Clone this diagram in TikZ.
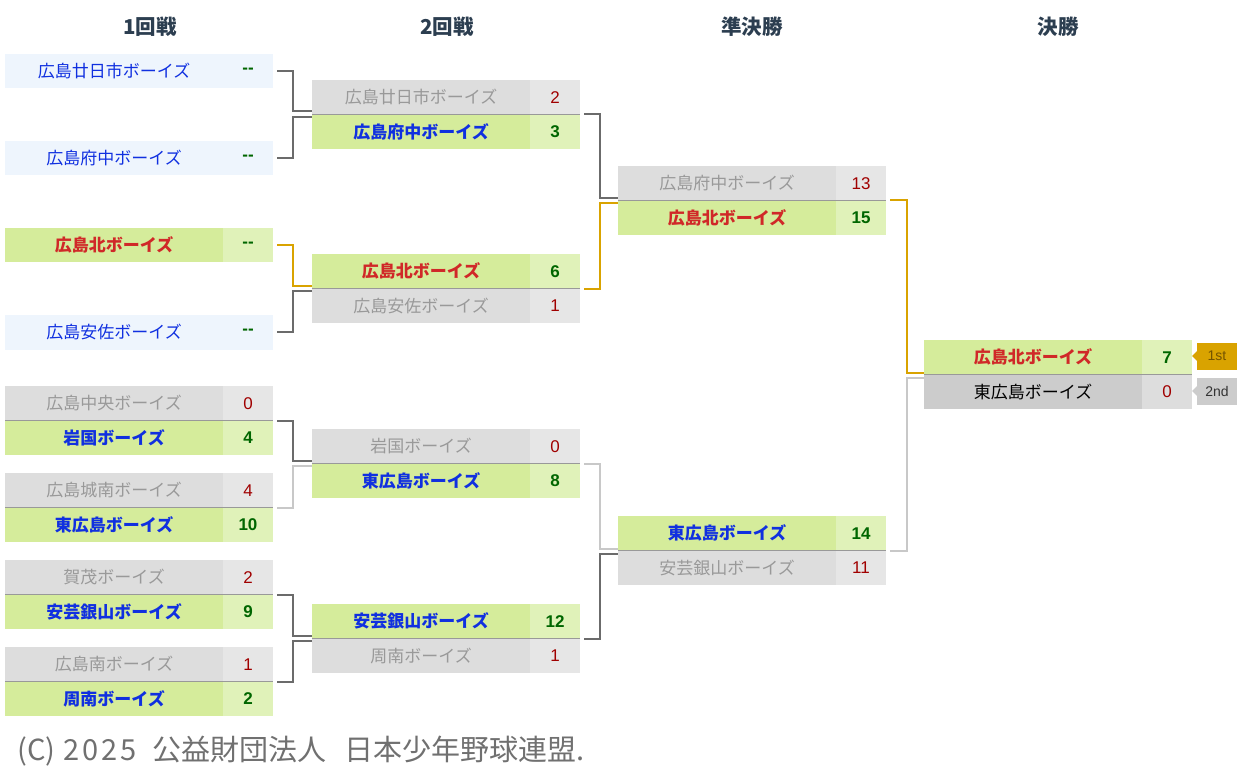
\documentclass[tikz,border=0pt]{standalone}
\usepackage{fontspec}
\setmainfont{Liberation Sans}
\newfontfamily\jp{Noto Sans CJK JP}
\definecolor{byebg}{HTML}{EEF5FD}
\definecolor{winbg}{HTML}{D5EC9B}
\definecolor{winsc}{HTML}{E0F2B9}
\definecolor{losebg}{HTML}{DDDDDD}
\definecolor{losesc}{HTML}{E6E6E6}
\definecolor{finbg}{HTML}{CCCCCC}
\definecolor{finsc}{HTML}{DDDDDD}
\definecolor{winblue}{HTML}{1030E0}
\definecolor{kitared}{HTML}{D02828}
\definecolor{losegray}{HTML}{999999}
\definecolor{losered}{HTML}{A00000}
\definecolor{wingreen}{HTML}{006600}
\definecolor{hdrcol}{HTML}{2C3E50}
\definecolor{footcol}{HTML}{707070}
\definecolor{cdarkc}{HTML}{6B6B6B}
\definecolor{cgoldc}{HTML}{D9A300}
\definecolor{clightc}{HTML}{C8C8C8}
\definecolor{sepc}{HTML}{999999}
\definecolor{tagtxt}{HTML}{735400}
\tikzset{
  cell/.style={rectangle, inner sep=0pt, outer sep=0pt, minimum height=34.5pt, anchor=north west},
  namecell/.style={cell, minimum width=218pt},
  scorecell/.style={cell, minimum width=50pt},
  nreg/.style={font=\jp\fontsize{17}{17}\selectfont},
  nbold/.style={font=\jp\bfseries\fontsize{17}{17}\selectfont},
  sreg/.style={font=\fontsize{17}{17}\selectfont},
  sbold/.style={font=\bfseries\fontsize{17}{17}\selectfont},
  byeN/.style={fill=byebg, text=winblue, nreg},
  byeS/.style={fill=byebg, text=wingreen, sbold},
  winN/.style={fill=winbg, text=winblue, nbold},
  winS/.style={fill=winsc, text=wingreen, sbold},
  kitaN/.style={fill=winbg, text=kitared, nbold},
  kitaS/.style={fill=winsc, text=wingreen, sbold},
  loseN/.style={fill=losebg, text=losegray, nreg},
  loseS/.style={fill=losesc, text=losered, sreg},
  finN/.style={fill=finbg, text=black, nreg},
  finS/.style={fill=finsc, text=losered, sreg},
  sepline/.style={draw=sepc, line width=1pt},
  cdark/.style={draw=cdarkc, line width=2pt},
  cgold/.style={draw=cgoldc, line width=2pt},
  clight/.style={draw=clightc, line width=2pt},
  hdr/.style={font=\jp\bfseries\fontsize{20.5}{20.5}\selectfont, text=hdrcol},
  tagbox/.style={rectangle, inner sep=0pt, outer sep=0pt, minimum width=40pt, minimum height=27pt, anchor=north west, font=\fontsize{14}{14}\selectfont},
  foot/.style={font=\jp\fontsize{29}{29}\selectfont, text=footcol, inner sep=0pt, anchor=west}
}
\newcommand\teamrow[6]{%
  \node[namecell,#4N] (#1n) at (#2,#3) {#5};
  \node[scorecell,#4S] (#1s) at (#1n.north east) {#6};
}
\newcommand\sepbetween[1]{\draw[sepline] (#1n.south west) -- (#1s.south east);}
\begin{document}
\begin{tikzpicture}[x=1pt,y=-1pt]
\useasboundingbox (0,0) rectangle (1240,778);
% headers
\node[hdr] (h1) at (150,27) {1回戦};
\node[hdr] (h2) at (447,27) {2回戦};
\node[hdr] (h3) at (752,27) {準決勝};
\node[hdr] (h4) at (1058,27) {決勝};
% round 1
\teamrow{ra}{5}{54}{bye}{広島廿日市ボーイズ}{-{}-}
\teamrow{rb}{5}{141}{bye}{広島府中ボーイズ}{-{}-}
\teamrow{rc}{5}{228}{kita}{広島北ボーイズ}{-{}-}
\teamrow{rd}{5}{315}{bye}{広島安佐ボーイズ}{-{}-}
\teamrow{re1}{5}{386}{lose}{広島中央ボーイズ}{0}
\teamrow{re2}{5}{420.5}{win}{岩国ボーイズ}{4}
\sepbetween{re1}
\teamrow{rf1}{5}{473}{lose}{広島城南ボーイズ}{4}
\teamrow{rf2}{5}{507.5}{win}{東広島ボーイズ}{10}
\sepbetween{rf1}
\teamrow{rg1}{5}{560}{lose}{賀茂ボーイズ}{2}
\teamrow{rg2}{5}{594.5}{win}{安芸銀山ボーイズ}{9}
\sepbetween{rg1}
\teamrow{rh1}{5}{647}{lose}{広島南ボーイズ}{1}
\teamrow{rh2}{5}{681.5}{win}{周南ボーイズ}{2}
\sepbetween{rh1}
% round 2
\teamrow{ri1}{312}{80}{lose}{広島廿日市ボーイズ}{2}
\teamrow{ri2}{312}{114.5}{win}{広島府中ボーイズ}{3}
\sepbetween{ri1}
\teamrow{rj1}{312}{254}{kita}{広島北ボーイズ}{6}
\teamrow{rj2}{312}{288.5}{lose}{広島安佐ボーイズ}{1}
\sepbetween{rj1}
\teamrow{rk1}{312}{429}{lose}{岩国ボーイズ}{0}
\teamrow{rk2}{312}{463.5}{win}{東広島ボーイズ}{8}
\sepbetween{rk1}
\teamrow{rl1}{312}{604}{win}{安芸銀山ボーイズ}{12}
\teamrow{rl2}{312}{638.5}{lose}{周南ボーイズ}{1}
\sepbetween{rl1}
% semifinals
\teamrow{rm1}{618}{166}{lose}{広島府中ボーイズ}{13}
\teamrow{rm2}{618}{200.5}{kita}{広島北ボーイズ}{15}
\sepbetween{rm1}
\teamrow{rn1}{618}{516}{win}{東広島ボーイズ}{14}
\teamrow{rn2}{618}{550.5}{lose}{安芸銀山ボーイズ}{11}
\sepbetween{rn1}
% final
\teamrow{rz1}{924}{340}{kita}{広島北ボーイズ}{7}
\teamrow{rz2}{924}{374.5}{fin}{東広島ボーイズ}{0}
\sepbetween{rz1}
% tags
\node[tagbox, fill=cgoldc, text=tagtxt] (t1) at (1197,342.5) {1st};
\fill[cgoldc] ([yshift=5pt]t1.west) -- ([xshift=-5pt]t1.west) -- ([yshift=-5pt]t1.west) -- cycle;
\node[tagbox, fill=finbg, text=black!80] (t2) at (1197,377.5) {2nd};
\fill[finbg] ([yshift=5pt]t2.west) -- ([xshift=-5pt]t2.west) -- ([yshift=-5pt]t2.west) -- cycle;
% connectors round1 -> round2
\draw[cdark] ([xshift=4pt]ras.east) -- ++(16pt,0) |- ([yshift=3pt]ri1n.south west);
\draw[cdark] ([xshift=4pt]rbs.east) -- ++(16pt,0) |- ([yshift=-2.5pt]ri2n.north west);
\draw[cgold] ([xshift=4pt]rcs.east) -- ++(16pt,0) |- ([yshift=3pt]rj1n.south west);
\draw[cdark] ([xshift=4pt]rds.east) -- ++(16pt,0) |- ([yshift=-2.5pt]rj2n.north west);
\draw[cdark] ([xshift=4pt]re1s.south east) -- ++(16pt,0) |- ([yshift=3pt]rk1n.south west);
\draw[clight] ([xshift=4pt]rf1s.south east) -- ++(16pt,0) |- ([yshift=-2.5pt]rk2n.north west);
\draw[cdark] ([xshift=4pt]rg1s.south east) -- ++(16pt,0) |- ([yshift=3pt]rl1n.south west);
\draw[cdark] ([xshift=4pt]rh1s.south east) -- ++(16pt,0) |- ([yshift=-2.5pt]rl2n.north west);
% round2 -> semifinal
\draw[cdark] ([xshift=4pt]ri1s.south east) -- ++(16pt,0) |- ([yshift=2pt]rm1n.south west);
\draw[cgold] ([xshift=4pt]rj1s.south east) -- ++(16pt,0) |- ([yshift=-3pt]rm2n.north west);
\draw[clight] ([xshift=4pt]rk1s.south east) -- ++(16pt,0) |- ([yshift=2pt]rn1n.south west);
\draw[cdark] ([xshift=4pt]rl1s.south east) -- ++(16pt,0) |- ([yshift=-3pt]rn2n.north west);
% semifinal -> final
\draw[cgold] ([xshift=4pt]rm1s.south east) -- ++(16.5pt,0) |- ([yshift=2pt]rz1n.south west);
\draw[clight] ([xshift=4pt]rn1s.south east) -- ++(16.5pt,0) |- ([yshift=-3pt]rz2n.north west);
% footer
\node[foot] (ft) at (17,751) {(C)\hspace{8pt}{\addfontfeature{LetterSpace=10}2025}\hspace{16pt}公益財団法人\hspace{18pt}日本少年野球連盟.};
\end{tikzpicture}
\end{document}
